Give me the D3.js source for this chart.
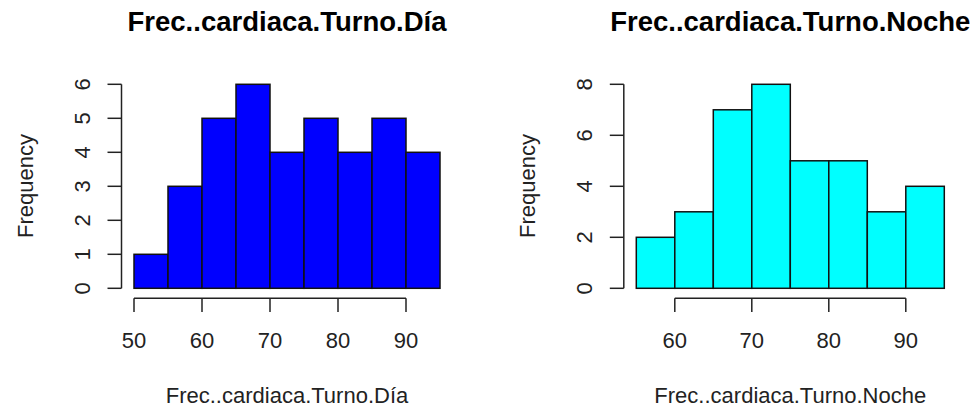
<!DOCTYPE html>
<html lang="es">
<head>
    <meta charset="UTF-8">
    <title>Histogramas Frec. cardiaca</title>
    <style>
        body { margin: 0; background: #fff; }
        svg { display: block; font-family: "Liberation Sans", Arial, sans-serif; }
        .bar { stroke: #111; stroke-width: 1.5; }
        .axis line { stroke: #222; stroke-width: 1.5; }
        .axis text { fill: #222; font-size: 22px; }
        .title { font-weight: bold; font-size: 27.5px; fill: #000; }
        .lab { font-size: 22px; fill: #222; }
    </style>
</head>
<body>
<script src="https://d3js.org/d3.v7.min.js"></script>
<script>

// Turno Día
var diaBreaks = [50, 55, 60, 65, 70, 75, 80, 85, 90, 95];
var diaCounts = [1, 3, 5, 6, 4, 5, 4, 5, 4];
var diaXTicks = [50, 60, 70, 80, 90];
var diaYTicks = [0, 1, 2, 3, 4, 5, 6];

// Turno Noche
var nocheBreaks = [55, 60, 65, 70, 75, 80, 85, 90, 95];
var nocheCounts = [2, 3, 7, 8, 5, 5, 3, 4];
var nocheXTicks = [60, 70, 80, 90];
var nocheYTicks = [0, 2, 4, 6, 8];

var width = 974, height = 408;

var svg = d3.select("body").append("svg")
    .attr("width", width)
    .attr("height", height);

function histo(opt) {
    var g = svg.append("g");
    var x = d3.scaleLinear()
        .domain([opt.breaks[0], opt.breaks[opt.breaks.length - 1]])
        .range([opt.x0, opt.x1]);
    var y = d3.scaleLinear()
        .domain([0, d3.max(opt.yTicks)])
        .range([288.3, 84.3]);

    var bins = opt.counts.map(function(c, i) {
        return { a: opt.breaks[i], b: opt.breaks[i + 1], n: c };
    });

    g.selectAll("rect.bar")
        .data(bins)
        .enter().append("rect")
        .attr("class", "bar")
        .attr("x", function(d) { return x(d.a); })
        .attr("y", function(d) { return y(d.n); })
        .attr("width", function(d) { return x(d.b) - x(d.a); })
        .attr("height", function(d) { return y(0) - y(d.n); })
        .attr("fill", opt.color);

    // eje x (estilo R: la linea va del primer al ultimo tick)
    var ax = g.append("g").attr("class", "axis");
    var xt = opt.xTicks;
    ax.append("line")
        .attr("x1", x(xt[0])).attr("x2", x(xt[xt.length - 1]))
        .attr("y1", 298.3).attr("y2", 298.3);
    ax.selectAll("line.tx").data(xt).enter().append("line")
        .attr("class", "tx")
        .attr("x1", x).attr("x2", x)
        .attr("y1", 298.3).attr("y2", 312);
    ax.selectAll("text.tx").data(xt).enter().append("text")
        .attr("class", "tx")
        .attr("x", x).attr("y", 348)
        .attr("text-anchor", "middle")
        .text(function(d) { return d; });

    // eje y
    var ay = g.append("g").attr("class", "axis");
    var yt = opt.yTicks;
    var axX = opt.x0 - 12.5;
    ay.append("line")
        .attr("x1", axX).attr("x2", axX)
        .attr("y1", y(yt[0])).attr("y2", y(yt[yt.length - 1]));
    ay.selectAll("line.ty").data(yt).enter().append("line")
        .attr("class", "ty")
        .attr("x1", axX - 14).attr("x2", axX)
        .attr("y1", y).attr("y2", y);
    ay.selectAll("text.ty").data(yt).enter().append("text")
        .attr("class", "ty")
        .attr("transform", function(d) { return "translate(" + (axX - 32) + "," + y(d) + ") rotate(-90)"; })
        .attr("text-anchor", "middle")
        .text(function(d) { return d; });

    var cx = (opt.x0 + opt.x1) / 2;
    g.append("text")
        .attr("class", "title")
        .attr("x", cx).attr("y", 31)
        .attr("text-anchor", "middle")
        .text(opt.name);
    g.append("text")
        .attr("class", "lab")
        .attr("x", cx).attr("y", 403)
        .attr("text-anchor", "middle")
        .text(opt.name);
    g.append("text")
        .attr("class", "lab")
        .attr("transform", "translate(" + (opt.x0 - 101) + ",186) rotate(-90)")
        .attr("text-anchor", "middle")
        .text("Frequency");
}

histo({
    name: "Frec..cardiaca.Turno.Día",
    breaks: diaBreaks, counts: diaCounts,
    xTicks: diaXTicks, yTicks: diaYTicks,
    color: "#0000ff", x0: 134, x1: 440
});

histo({
    name: "Frec..cardiaca.Turno.Noche",
    breaks: nocheBreaks, counts: nocheCounts,
    xTicks: nocheXTicks, yTicks: nocheYTicks,
    color: "#00ffff", x0: 636.3, x1: 944.3
});

</script>
</body>
</html>
